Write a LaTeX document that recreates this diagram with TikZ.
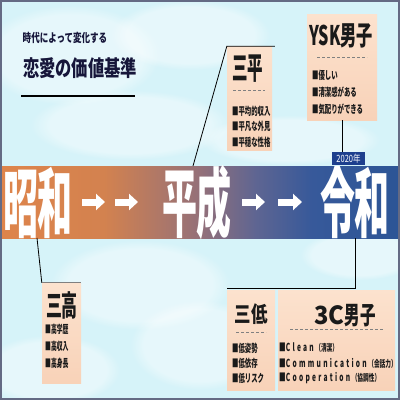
\documentclass[tikz,border=0pt]{standalone}
\usepackage{fontspec}
\setmainfont{Noto Sans CJK JP}
\usetikzlibrary{arrows.meta,fadings}

\definecolor{sky}{HTML}{D6F3F9}
\definecolor{frame}{HTML}{646A84}
\definecolor{peachT}{HTML}{FCE2CE}
\definecolor{peachB}{HTML}{F8D2B8}
\definecolor{shoL}{HTML}{DE844B}
\definecolor{shoM}{HTML}{D3824F}
\definecolor{heiM}{HTML}{947079}
\definecolor{heiR}{HTML}{5E6592}
\definecolor{reiL}{HTML}{37599A}
\definecolor{reiR}{HTML}{2C5596}
\definecolor{yearblue}{HTML}{1D3F8E}
\definecolor{navy}{HTML}{16163A}
\definecolor{ink}{HTML}{1A1A1A}

\pgfdeclarehorizontalshading{eraband}{100bp}{color(0bp)=(shoL); color(25bp)=(shoL);
  color(38bp)=(shoM); color(50bp)=(heiM); color(57bp)=(heiR); color(64bp)=(reiL);
  color(75bp)=(reiR); color(100bp)=(reiR)}

\newcommand{\tall}[2]{\scalebox{#1}[1]{#2}}

\tikzset{
  era/.style={text=white, inner sep=0, font=\fontsize{76}{76}\selectfont\bfseries},
  card/.style={top color=peachT, bottom color=peachB, inner sep=0},
  cardhead/.style={inner sep=0, text=ink},
  entry/.style={anchor=west, inner sep=0, text=ink, font=\fontsize{11}{11}\selectfont\bfseries},
  rule/.style={gray, densely dashed, line width=0.8pt},
  eraarrow/.style={white, line width=7pt, -{Triangle[length=9pt,width=16pt]}},
  link/.style={black, line width=0.8pt},
  cloud/.style={white, opacity=0.4, path fading=circle with fuzzy edge 20 percent},
}

\begin{document}
\begin{tikzpicture}[x=1pt, y=-1pt]
    \useasboundingbox (0,0) rectangle (400,400);
    \fill[sky] (0,0) rectangle (400,400);

    % clouds
    \fill[cloud] (70,55) ellipse (90 and 50);
    \fill[cloud] (190,35) ellipse (80 and 35);
    \fill[cloud] (130,125) ellipse (100 and 35);
    \fill[cloud] (290,140) ellipse (90 and 25);
    \fill[cloud] (140,285) ellipse (90 and 45);
    \fill[cloud] (200,345) ellipse (70 and 45);
    \fill[cloud] (50,370) ellipse (70 and 35);
    \fill[cloud] (360,255) ellipse (60 and 25);

    % era band
    \node[shading=eraband, inner sep=0, minimum width=400, minimum height=72] (band) at (200,202) {};
    \node[era] (showa) at (38,203) {\tall{0.46}{昭和}};
    \node[era] (heisei) at (197,203) {\tall{0.46}{平成}};
    \node[era] (reiwa) at (355,203) {\tall{0.46}{令和}};

    \draw[eraarrow] (82,202) -- (105,202);
    \draw[eraarrow] (115,202) -- (138,202);
    \draw[eraarrow] (242,202) -- (265,202);
    \draw[eraarrow] (278,202) -- (302,202);

    \node[fill=yearblue, text=white, inner sep=0, minimum width=33, minimum height=13,
      font=\fontsize{10}{10}\selectfont] (year) at (348.5,158.5) {\tall{0.75}{2020年}};

    % cards
    \node[card, minimum width=45, minimum height=104] (sanpei) at (249.5,98.5) {};
    \node[card, minimum width=70, minimum height=106] (ysk) at (342,67) {};
    \node[card, minimum width=39, minimum height=100] (sankou) at (61.5,333) {};
    \node[card, minimum width=48, minimum height=100] (santei) at (251,340) {};
    \node[card, minimum width=117, minimum height=100] (threec) at (336.5,340) {};

    % connectors
    \coordinate (heiseiTop) at (193,166);
    \coordinate (showaFoot) at (37,238);
    \coordinate (reiwaFoot) at (355,238);
    \coordinate (teiCorner) at (355,288);
    \draw[link] (heiseiTop) -- (sanpei.north west) -- ++(48,0);
    \draw[link] (ysk.south) -- (ysk.south |- year.north);
    \draw[link] (showaFoot) -- (sankou.north west);
    \draw[gray, line width=1.2pt] (sankou.north west) -- (sankou.north east);
    \draw[link] (reiwaFoot) -- (teiCorner) -- (teiCorner -| santei.west);

    % 三平
    \node[cardhead, font=\fontsize{31}{31}\selectfont\bfseries] (sanpeiHead) at (248,69) {\tall{0.5}{三平}};
    \draw[rule] (233,90) -- (265,90);
    \node[entry] (sanpeiA) at (232,111) {\tall{0.58}{■平均的収入}};
    \node[entry] (sanpeiB) at (232,126) {\tall{0.58}{■平凡な外見}};
    \node[entry] (sanpeiC) at (232,142) {\tall{0.58}{■平穏な性格}};

    % YSK男子
    \node[cardhead, font=\fontsize{27}{27}\selectfont\bfseries] (yskHead) at (341,36) {\tall{0.6}{YSK男子}};
    \draw[rule] (317,57) -- (367,57);
    \node[entry] (yskA) at (312,75) {\tall{0.58}{■優しい}};
    \node[entry] (yskB) at (312,92) {\tall{0.58}{■清潔感がある}};
    \node[entry] (yskC) at (312,109) {\tall{0.58}{■気配りができる}};

    % 三高
    \node[cardhead, font=\fontsize{29}{29}\selectfont\bfseries] (sankouHead) at (62,305) {\tall{0.55}{三高}};
    \node[entry] (sankouA) at (45,329) {\tall{0.53}{■高学歴}};
    \node[entry] (sankouB) at (45,346) {\tall{0.53}{■高収入}};
    \node[entry] (sankouC) at (45,363) {\tall{0.53}{■高身長}};

    % 三低
    \node[cardhead, font=\fontsize{22}{22}\selectfont\bfseries] (santeiHead) at (251,314) {\tall{0.75}{三低}};
    \draw[rule] (236,332) -- (266,332);
    \node[entry] (santeiA) at (232,348) {\tall{0.58}{■低姿勢}};
    \node[entry] (santeiB) at (232,363) {\tall{0.58}{■低依存}};
    \node[entry] (santeiC) at (232,378) {\tall{0.58}{■低リスク}};

    % 3C男子
    \node[cardhead, font=\fontsize{25}{25}\selectfont\bfseries] (threecHead) at (345,316) {\tall{0.95}{3C}\tall{0.62}{男子}};
    \draw[rule] (290,329) -- (383,329);
    \node[entry] (threecA) at (279,348) {\tall{0.6}{■{\addfontfeature{LetterSpace=35}Clean} {\fontsize{9.5}{9.5}\selectfont（清潔）}}};
    \node[entry] (threecB) at (279,363) {\tall{0.6}{■{\addfontfeature{LetterSpace=35}Communication} {\fontsize{9.5}{9.5}\selectfont（会話力）}}};
    \node[entry] (threecC) at (279,378) {\tall{0.6}{■{\addfontfeature{LetterSpace=35}Cooperation} {\fontsize{9.5}{9.5}\selectfont（協調性）}}};

    % title
    \node[text=navy, inner sep=0, font=\fontsize{12}{12}\selectfont\bfseries] (subtitle) at (65,38) {\tall{0.71}{時代によって変化する}};
    \node[text=navy, inner sep=0, font=\fontsize{22}{22}\selectfont\bfseries] (title) at (80,68) {\tall{0.74}{恋愛の価値基準}};
    \draw[black, line width=1.2pt] (21,96) -- (135,96);

    \draw[frame, line width=2pt] (1,1) rectangle (399,399);
\end{tikzpicture}
\end{document}
